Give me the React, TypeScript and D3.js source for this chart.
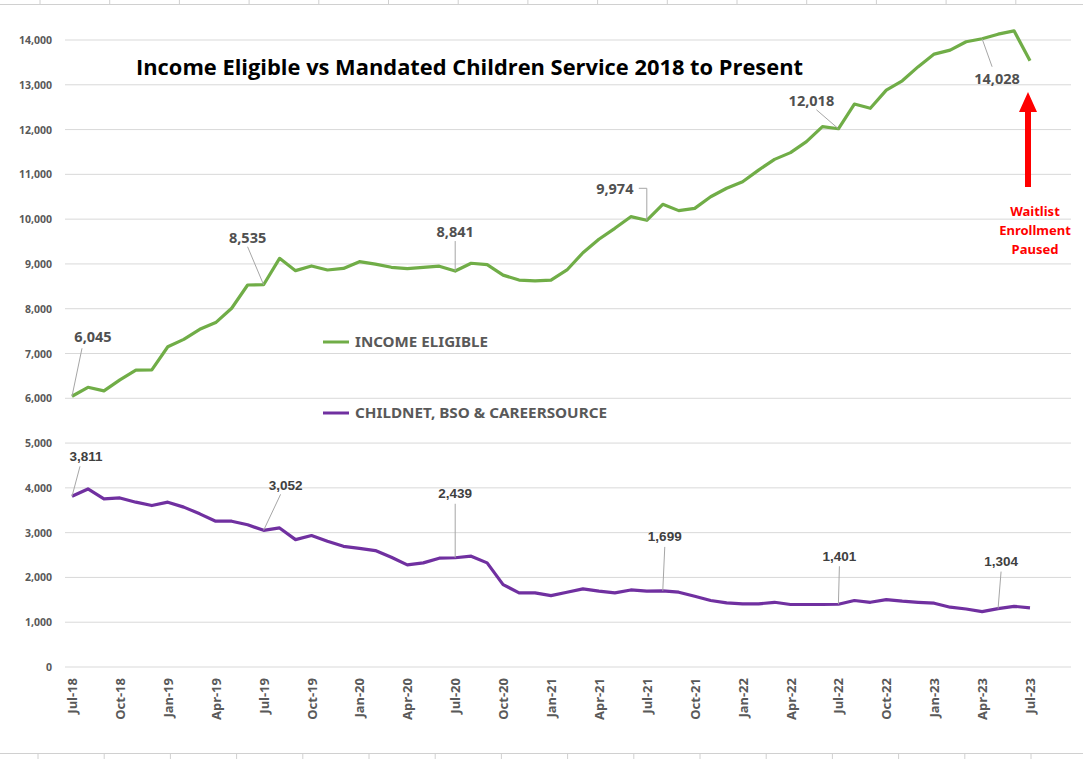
import React from "react";
import * as d3 from "d3";

const startMonth = new Date(2018, 6, 1);
const months: Date[] = d3.timeMonth.range(startMonth, new Date(2023, 7, 1));
const fmtMonth = d3.timeFormat("%b-%y");

const incomeEligible = [
  6045, 6245, 6165, 6410, 6630, 6635, 7150, 7315, 7540, 7690, 8010, 8530,
  8535, 9125, 8850, 8955, 8865, 8900, 9050, 8995, 8925, 8895, 8925, 8950,
  8841, 9015, 8985, 8750, 8640, 8620, 8640, 8865, 9250, 9550, 9795, 10055,
  9974, 10330, 10190, 10240, 10500, 10690, 10835, 11095, 11335, 11485, 11730, 12065,
  12018, 12570, 12475, 12880, 13090, 13405, 13685, 13775, 13960, 14028, 14130, 14205,
  13535,
];

const childnet = [
  3811, 3975, 3755, 3775, 3680, 3605, 3680, 3570, 3420, 3255, 3255, 3175,
  3052, 3105, 2845, 2935, 2810, 2695, 2650, 2600, 2450, 2280, 2325, 2430,
  2439, 2475, 2325, 1840, 1655, 1655, 1595, 1670, 1745, 1695, 1655, 1720,
  1695, 1699, 1670, 1580, 1485, 1430, 1410, 1410, 1445, 1395, 1395, 1395,
  1401, 1485, 1445, 1505, 1470, 1445, 1425, 1335, 1295, 1235, 1304, 1355,
  1320,
];

const yTicks = [0, 1000, 2000, 3000, 4000, 5000, 6000, 7000, 8000, 9000, 10000, 11000, 12000, 13000, 14000];

const seriesNames = ["INCOME ELIGIBLE", "CHILDNET, BSO & CAREERSOURCE"];
const noteLines = ["Waitlist", "Enrollment", "Paused"];
const titleText = "Income Eligible vs Mandated Children Service 2018 to Present";

const greenNotes = [
  { i: 0, tx: 21, ty: -60, lx: 10, ly: -48 },
  { i: 12, tx: -16, ty: -48, lx: -16, ly: -38 },
  { i: 24, tx: 0, ty: -40, lx: 0, ly: -30 },
  { i: 36, tx: -32, ty: -32, lx: -8, ly: -32, elbow: true },
  { i: 48, tx: -27, ty: -29, lx: -22, ly: -19 },
  { i: 57, tx: 15, ty: 39, lx: 10, ly: 28 },
];
const purpleNotes = [
  { i: 0, tx: 14, ty: -40, lx: 8, ly: -30 },
  { i: 12, tx: 22, ty: -45, lx: 17, ly: -36 },
  { i: 24, tx: 0, ty: -64, lx: 0, ly: -54 },
  { i: 37, tx: 2, ty: -54, lx: 2, ly: -44 },
  { i: 48, tx: 1, ty: -48, lx: 1, ly: -38 },
  { i: 58, tx: 3, ty: -47, lx: 3, ly: -37 },
];

const W = 1083;
const H = 759;
const GREEN = "#70ad47";
const PURPLE = "#7030a0";
const GRID = "#d9d9d9";
const TXT = "#595959";

export default function App() {
  const x = d3.scaleLinear().domain([0, months.length - 1]).range([72, 1030]);
  const y = d3.scaleLinear().domain([0, 14000]).range([667, 40]);
  const line = d3
    .line<number>()
    .x((_, i) => x(i))
    .y((d) => y(d));
  const fmt = d3.format(",");

  const topTicks = d3.range(40, W, 69.7);
  const botTicks = d3.range(38, W, 66.2);

  const renderNotes = (
    notes: any[],
    data: number[],
    font: string,
    size: number,
    color: string
  ) =>
    notes.map((n, k) => {
      const px = x(n.i);
      const py = y(data[n.i]);
      const lead = n.elbow
        ? `M${px + n.lx},${py + n.ly} L${px},${py + n.ly} L${px},${py}`
        : `M${px + n.lx},${py + n.ly} L${px},${py}`;
      return (
        <g key={k}>
          <path d={lead} fill="none" stroke="#a6a6a6" strokeWidth={1} />
          <text
            x={px + n.tx}
            y={py + n.ty}
            textAnchor="middle"
            dominantBaseline="central"
            fontFamily={font}
            fontSize={size}
            fontWeight="bold"
            fill={color}
          >
            {fmt(data[n.i])}
          </text>
        </g>
      );
    });

  const ax = x(60) - 2;
  const legendWidths = [133, 252];
  return (
    <svg
      width={W}
      height={H}
      style={{ position: "absolute", left: 0, top: 0, background: "#fff" }}
    >
      <rect width={W} height={H} fill="#fff" />
      <line x1={0} x2={W} y1={4.5} y2={4.5} stroke="#d0d0d0" />
      {topTicks.map((t, i) => (
        <line key={"tt" + i} x1={t} x2={t} y1={0} y2={4.5} stroke="#d0d0d0" />
      ))}
      <line x1={0} x2={W} y1={753.5} y2={753.5} stroke="#d0d0d0" />
      {botTicks.map((t, i) => (
        <line key={"bt" + i} x1={t} x2={t} y1={753.5} y2={H} stroke="#d0d0d0" />
      ))}

      {yTicks.map((t) => (
        <g key={t}>
          <line x1={65} x2={1071} y1={y(t)} y2={y(t)} stroke={GRID} strokeWidth={1} />
          <text
            x={52}
            y={y(t)}
            textAnchor="end"
            dominantBaseline="central"
            fontFamily="'Noto Sans', sans-serif"
            fontSize={10.5}
            fontWeight="bold"
            fill={TXT}
          >
            {fmt(t)}
          </text>
        </g>
      ))}

      {months.map((m, i) =>
        i % 3 === 0 ? (
          <text
            key={i}
            transform={`translate(${x(i)},${678}) rotate(-90)`}
            textAnchor="end"
            dominantBaseline="central"
            fontFamily="'Noto Sans', sans-serif"
            fontSize={13}
            fontWeight="bold"
            fill={TXT}
          >
            {fmtMonth(m)}
          </text>
        ) : null
      )}

      <path d={line(incomeEligible) || ""} fill="none" stroke={GREEN} strokeWidth={3.2} strokeLinejoin="round" />
      <path d={line(childnet) || ""} fill="none" stroke={PURPLE} strokeWidth={3.2} strokeLinejoin="round" />

      {renderNotes(greenNotes, incomeEligible, "'Noto Sans', sans-serif", 14.5, "#505050")}
      {renderNotes(purpleNotes, childnet, "'Liberation Sans', Arial, sans-serif", 13.5, "#404040")}

      {[GREEN, PURPLE].map((c, i) => (
        <g key={c} transform={`translate(323,${342 + i * 71})`}>
          <line x1={0} x2={26} y1={0} y2={0} stroke={c} strokeWidth={3} />
          <text
            x={32}
            y={0}
            dominantBaseline="central"
            fontFamily="'Noto Sans', sans-serif"
            fontSize={13.5}
            fontWeight="bold"
            fill={TXT}
            textLength={legendWidths[i]}
            lengthAdjust="spacingAndGlyphs"
          >
            {seriesNames[i]}
          </text>
        </g>
      ))}

      <text
        x={136}
        y={67}
        dominantBaseline="central"
        fontFamily="'Open Sans', 'Noto Sans', sans-serif"
        fontSize={21}
        fontWeight="bold"
        fill="#000"
        textLength={667}
        lengthAdjust="spacingAndGlyphs"
      >
        {titleText}
      </text>

      <path
        d={`M${ax - 3},187 L${ax - 3},112 L${ax - 9},112 L${ax},92 L${ax + 9},112 L${ax + 3},112 L${ax + 3},187 Z`}
        fill="#ff0000"
      />
      {noteLines.map((t, i) => (
        <text
          key={t}
          x={1035}
          y={211 + i * 19}
          textAnchor="middle"
          dominantBaseline="central"
          fontFamily="'Noto Sans', sans-serif"
          fontSize={13}
          fontWeight="bold"
          fill="#ff0000"
        >
          {t}
        </text>
      ))}
    </svg>
  );
}
